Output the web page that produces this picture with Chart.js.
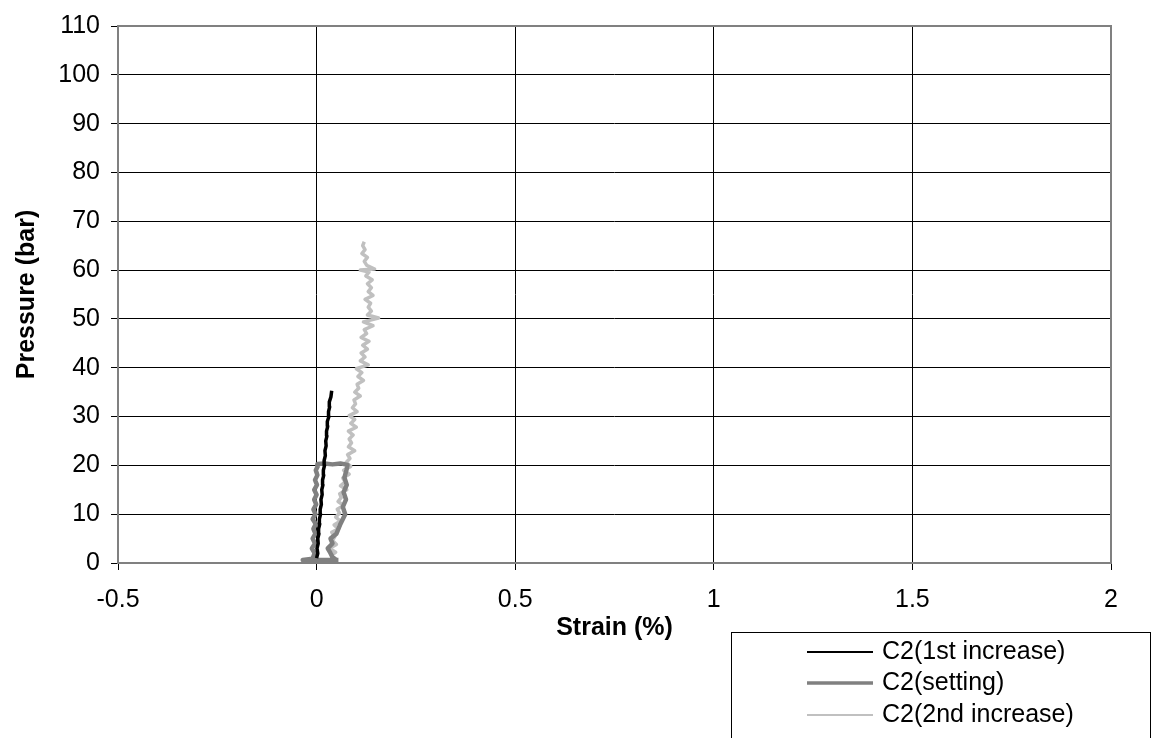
<!DOCTYPE html>
<html>
<head>
<meta charset="utf-8">
<script src="https://cdn.jsdelivr.net/npm/chart.js@4"></script>
<style>
  body { margin: 0; background: #fff; }
</style>
</head>
<body>
<canvas id="chart" width="1152" height="738"></canvas>
<script>
// Series data (strain in %, pressure in bar)
const firstStrain = [0.000, 0.003, 0.001, 0.004, 0.003, 0.006, 0.005, 0.008, 0.007, 0.010,
  0.009, 0.012, 0.011, 0.014, 0.013, 0.016, 0.015, 0.018, 0.017, 0.020,
  0.019, 0.022, 0.021, 0.024, 0.023, 0.026, 0.025, 0.028, 0.027, 0.031,
  0.030, 0.033, 0.032, 0.036, 0.038];
const firstPressure = [1, 2, 3, 4, 5, 6, 7, 8, 9, 10,
  11, 12, 13, 14, 15, 16, 17, 18, 19, 20,
  21, 22, 23, 24, 25, 26, 27, 28, 29, 30,
  31, 32, 33, 34, 35.3];

const settingStrain = [0.055, -0.035, -0.010, -0.005, -0.012, -0.004, -0.010, -0.003, -0.008, -0.002,
  -0.010, -0.003, -0.008, -0.001, -0.006, 0.000, -0.006, 0.001, -0.004, 0.002,
  -0.002, 0.003, 0.002, 0.020, 0.040, 0.060, 0.078, 0.075, 0.070, 0.076,
  0.068, 0.074, 0.066, 0.072, 0.060, 0.050, 0.035, 0.040, 0.028, 0.035,
  0.040, 0.050];
const settingPressure = [0.6, 0.6, 0.9, 2, 3, 4, 5, 6, 7, 8,
  9, 10, 11, 12, 13, 14, 15, 16, 17, 18,
  19, 19.8, 20.3, 20.4, 20.2, 20.4, 20.1, 19, 17.5, 16,
  14.5, 13, 11.5, 10, 8, 6, 5, 4, 3, 2,
  1.2, 0.6];

const secondStrain = [0.035, 0.048, 0.032, 0.050, 0.040, 0.046, 0.038, 0.055, 0.044, 0.060,
  0.048, 0.058, 0.052, 0.068, 0.054, 0.062, 0.058, 0.076, 0.060, 0.072,
  0.066, 0.082, 0.068, 0.086, 0.074, 0.084, 0.078, 0.096, 0.080, 0.088,
  0.082, 0.092, 0.080, 0.100, 0.086, 0.096, 0.082, 0.102, 0.090, 0.098,
  0.094, 0.110, 0.096, 0.106, 0.102, 0.118, 0.104, 0.114, 0.100, 0.130,
  0.110, 0.122, 0.112, 0.128, 0.116, 0.132, 0.112, 0.126, 0.120, 0.142,
  0.118, 0.156, 0.128, 0.138, 0.130, 0.136, 0.122, 0.142, 0.130, 0.138,
  0.128, 0.140, 0.124, 0.132, 0.110, 0.146, 0.126, 0.120, 0.128, 0.114,
  0.122, 0.116, 0.120];
const secondPressure = [1.5, 2.2, 3, 3.8, 4.6, 5.4, 6.3, 7, 7.8, 8.6,
  9.4, 10.2, 11, 11.8, 12.6, 13.4, 14.2, 15, 15.8, 16.6,
  17.4, 18.2, 19, 19.8, 20.6, 21.4, 22.2, 23, 23.8, 24.6,
  25.4, 26.2, 27, 27.8, 28.6, 29.4, 30.2, 31, 31.8, 32.6,
  33.4, 34.2, 35, 35.8, 36.6, 37.4, 38.2, 39, 39.8, 40.6,
  41.4, 42.2, 43, 43.8, 44.6, 45.4, 46.2, 47, 47.8, 48.6,
  49.4, 50.2, 50.8, 51.6, 52.4, 53.2, 54, 54.8, 55.6, 56.4,
  57.2, 58, 58.8, 59.6, 60, 60.2, 61, 61.8, 62.6, 63.4,
  64.2, 65, 65.8];

const seriesLabels = ["C2(1st increase)", "C2(setting)", "C2(2nd increase)"];
const xTicks = [-0.5, 0, 0.5, 1, 1.5, 2];
const yTicks = [0, 10, 20, 30, 40, 50, 60, 70, 80, 90, 100, 110];

const FONT = "'Liberation Sans', Arial, sans-serif";

function toPoints(xs, ys) {
  return xs.map((x, i) => ({ x: x, y: ys[i] }));
}

// Gray frame around the plot area, drawn under the data
const framePlugin = {
  id: "frame",
  beforeDatasetsDraw(chart) {
    const { ctx, chartArea: a } = chart;
    ctx.save();
    ctx.strokeStyle = "#808080";
    ctx.lineWidth = 2;
    ctx.strokeRect(a.left, a.top, a.right - a.left, a.bottom - a.top);
    ctx.restore();
  },
};

// Boxed legend in the lower right corner
const boxLegendPlugin = {
  id: "boxLegend",
  afterDraw(chart) {
    const ctx = chart.ctx;
    ctx.save();
    ctx.strokeStyle = "#000";
    ctx.lineWidth = 1;
    ctx.strokeRect(731.5, 632.5, 419, 120);
    ctx.font = "25px " + FONT;
    ctx.textBaseline = "middle";
    ctx.fillStyle = "#000";
    const rows = [652, 683, 715];
    chart.data.datasets.forEach((ds, i) => {
      ctx.strokeStyle = ds.borderColor;
      ctx.lineWidth = ds.legendWidth;
      ctx.beginPath();
      ctx.moveTo(807, rows[i]);
      ctx.lineTo(873, rows[i]);
      ctx.stroke();
      ctx.fillText(ds.label, 882, rows[i]);
    });
    ctx.restore();
  },
};

const chart = new Chart(document.getElementById("chart").getContext("2d"), {
  type: "line",
  data: {
    datasets: [
      {
        label: seriesLabels[0],
        data: toPoints(firstStrain, firstPressure),
        borderColor: "#000000",
        borderWidth: 3.5,
        legendWidth: 2,
      },
      {
        label: seriesLabels[1],
        data: toPoints(settingStrain, settingPressure),
        borderColor: "#808080",
        borderWidth: 4.5,
        legendWidth: 3.5,
      },
      {
        label: seriesLabels[2],
        data: toPoints(secondStrain, secondPressure),
        borderColor: "#c0c0c0",
        borderWidth: 3.5,
        legendWidth: 2,
      },
    ],
  },
  options: {
    responsive: false,
    animation: false,
    devicePixelRatio: 1,
    parsing: false,
    elements: {
      point: { radius: 0 },
      line: { tension: 0, fill: false, borderJoinStyle: "round" },
    },
    layout: {
      padding: { top: 17, right: 41, left: 0, bottom: 0 },
    },
    plugins: {
      legend: { display: false },
      tooltip: { enabled: false },
    },
    scales: {
      x: {
        type: "linear",
        min: -0.5,
        max: 2,
        afterBuildTicks: (scale) => {
          scale.ticks = xTicks.map((v) => ({ value: v }));
        },
        afterFit: (scale) => {
          scale.height = 175;
        },
        border: { display: false },
        grid: {
          color: "#000",
          lineWidth: 1,
          tickLength: 7,
          tickColor: "#000",
        },
        ticks: {
          color: "#000",
          font: { family: FONT, size: 25 },
          padding: 15,
          maxRotation: 0,
          callback: (value) => String(value),
        },
        title: {
          display: true,
          text: "Strain (%)",
          color: "#000",
          font: { family: FONT, size: 25, weight: "bold" },
          padding: { top: 0, bottom: 95 },
        },
      },
      y: {
        type: "linear",
        min: 0,
        max: 110,
        afterBuildTicks: (scale) => {
          scale.ticks = yTicks.map((v) => ({ value: v }));
        },
        afterFit: (scale) => {
          scale.width = 118;
        },
        border: { display: false },
        grid: {
          color: "#000",
          lineWidth: 1,
          tickLength: 7,
          tickColor: "#000",
        },
        ticks: {
          color: "#000",
          font: { family: FONT, size: 25 },
          padding: 11,
          callback: (value) => String(value),
        },
        title: {
          display: true,
          text: "Pressure (bar)",
          color: "#000",
          font: { family: FONT, size: 25, weight: "bold" },
          padding: { top: 12, bottom: 0 },
        },
      },
    },
  },
  plugins: [framePlugin, boxLegendPlugin],
});
</script>
</body>
</html>
